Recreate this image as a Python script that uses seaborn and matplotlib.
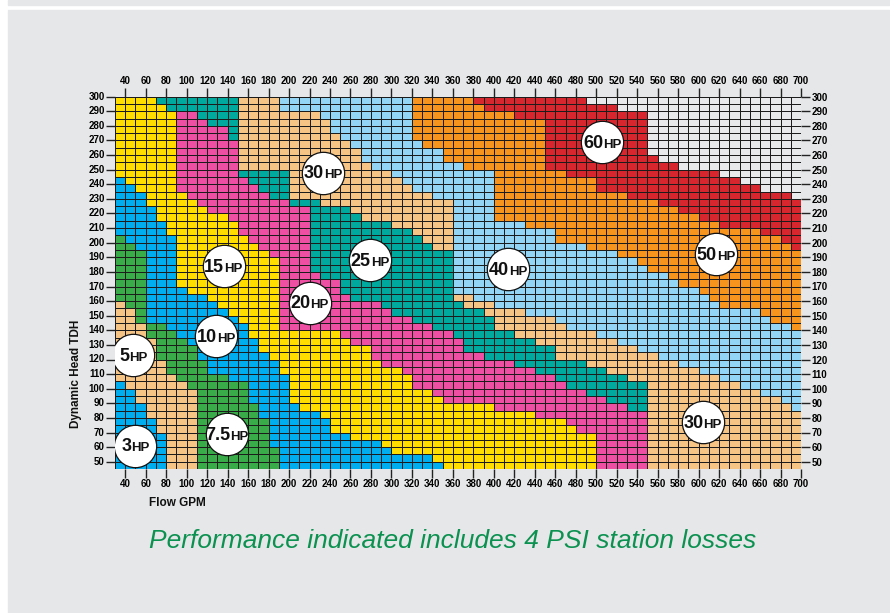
import numpy as np
import pandas as pd
import seaborn as sns
import matplotlib.pyplot as plt
from matplotlib.colors import ListedColormap
from matplotlib.offsetbox import TextArea, HPacker, AnnotationBbox
from matplotlib.patches import Rectangle

# Grid: columns are 10 GPM wide (left edge 30..690), rows are 5 ft tall (bottom edge 45..295)
gpm = list(range(30, 700, 10))
head = list(range(295, 40, -5))

# Top of each horsepower band (ft) for every 10 GPM column, bottom band first
hp3_top = [
    105, 100, 90, 80, 70, 45, 45, 45, 45, 45,
    45, 45, 45, 45, 45, 45, 45, 45, 45, 45,
    45, 45, 45, 45, 45, 45, 45, 45, 45, 45,
    45, 45, 45, 45, 45, 45, 45, 45, 45, 45,
    45, 45, 45, 45, 45, 45, 45, 45, 45, 45,
    45, 45, 45, 45, 45, 45, 45, 45, 45, 45,
    45, 45, 45, 45, 45, 45, 45,
]
hp5_top = [
    160, 155, 145, 135, 120, 110, 105, 100, 45, 45,
    45, 45, 45, 45, 45, 45, 45, 45, 45, 45,
    45, 45, 45, 45, 45, 45, 45, 45, 45, 45,
    45, 45, 45, 45, 45, 45, 45, 45, 45, 45,
    45, 45, 45, 45, 45, 45, 45, 45, 45, 45,
    45, 45, 45, 45, 45, 45, 45, 45, 45, 45,
    45, 45, 45, 45, 45, 45, 45,
]
hp7_5_top = [
    205, 200, 195, 145, 145, 140, 135, 130, 120, 110,
    110, 105, 105, 90, 80, 60, 45, 45, 45, 45,
    45, 45, 45, 45, 45, 45, 45, 45, 45, 45,
    45, 45, 45, 45, 45, 45, 45, 45, 45, 45,
    45, 45, 45, 45, 45, 45, 45, 45, 45, 45,
    45, 45, 45, 45, 45, 45, 45, 45, 45, 45,
    45, 45, 45, 45, 45, 45, 45,
]
hp10_top = [
    245, 240, 235, 225, 215, 205, 170, 165, 165, 160,
    155, 150, 145, 135, 125, 120, 110, 90, 85, 85,
    80, 70, 70, 65, 65, 65, 60, 55, 55, 55,
    55, 50, 45, 45, 45, 45, 45, 45, 45, 45,
    45, 45, 45, 45, 45, 45, 45, 45, 45, 45,
    45, 45, 45, 45, 45, 45, 45, 45, 45, 45,
    45, 45, 45, 45, 45, 45, 45,
]
hp15_top = [
    300, 300, 300, 300, 295, 290, 235, 230, 225, 220,
    220, 215, 205, 200, 195, 190, 140, 140, 140, 140,
    140, 140, 135, 130, 130, 120, 115, 115, 110, 100,
    100, 95, 90, 90, 90, 90, 90, 85, 85, 85,
    85, 80, 80, 80, 75, 70, 70, 45, 45, 45,
    45, 45, 45, 45, 45, 45, 45, 45, 45, 45,
    45, 45, 45, 45, 45, 45, 45,
]
hp20_top = [
    300, 300, 300, 300, 295, 290, 290, 290, 285, 280,
    280, 270, 245, 240, 235, 230, 230, 225, 225, 180,
    175, 175, 165, 160, 160, 160, 155, 150, 150, 145,
    145, 140, 140, 135, 125, 125, 120, 120, 120, 115,
    115, 110, 110, 105, 100, 100, 95, 95, 90, 90,
    85, 85, 45, 45, 45, 45, 45, 45, 45, 45,
    45, 45, 45, 45, 45, 45, 45,
]
hp25_top = [
    300, 300, 300, 300, 300, 300, 300, 300, 300, 300,
    300, 300, 250, 250, 250, 250, 250, 230, 230, 230,
    225, 225, 225, 220, 215, 215, 215, 210, 210, 205,
    200, 195, 195, 160, 155, 155, 150, 140, 140, 135,
    135, 130, 130, 120, 120, 120, 115, 115, 110, 110,
    105, 105, 45, 45, 45, 45, 45, 45, 45, 45,
    45, 45, 45, 45, 45, 45, 45,
]
hp30_top = [
    300, 300, 300, 300, 300, 300, 300, 300, 300, 300,
    300, 300, 300, 300, 300, 300, 290, 290, 290, 290,
    285, 275, 270, 265, 255, 250, 250, 245, 240, 235,
    235, 230, 230, 165, 165, 160, 160, 155, 155, 155,
    150, 150, 150, 145, 140, 140, 140, 135, 135, 130,
    130, 125, 125, 120, 120, 115, 115, 110, 110, 105,
    105, 100, 100, 95, 95, 90, 85,
]
hp40_top = [
    300, 300, 300, 300, 300, 300, 300, 300, 300, 300,
    300, 300, 300, 300, 300, 300, 300, 300, 300, 300,
    300, 300, 300, 300, 300, 300, 300, 300, 300, 270,
    265, 265, 255, 255, 250, 250, 250, 215, 215, 215,
    210, 210, 210, 200, 200, 200, 195, 195, 195, 190,
    190, 185, 180, 180, 175, 170, 170, 165, 160, 155,
    155, 155, 155, 150, 145, 145, 140,
]
hp50_top = [
    300, 300, 300, 300, 300, 300, 300, 300, 300, 300,
    300, 300, 300, 300, 300, 300, 300, 300, 300, 300,
    300, 300, 300, 300, 300, 300, 300, 300, 300, 300,
    300, 300, 300, 300, 300, 295, 290, 290, 290, 285,
    285, 285, 250, 250, 245, 245, 245, 235, 235, 235,
    230, 230, 230, 225, 225, 220, 220, 215, 215, 210,
    210, 210, 210, 205, 205, 200, 195,
]
hp60_top = [
    300, 300, 300, 300, 300, 300, 300, 300, 300, 300,
    300, 300, 300, 300, 300, 300, 300, 300, 300, 300,
    300, 300, 300, 300, 300, 300, 300, 300, 300, 300,
    300, 300, 300, 300, 300, 300, 300, 300, 300, 300,
    300, 300, 300, 300, 300, 300, 295, 295, 295, 290,
    290, 290, 260, 255, 255, 250, 250, 250, 250, 245,
    245, 240, 240, 235, 235, 235, 230,
]

band_tops = [hp3_top, hp5_top, hp7_5_top, hp10_top, hp15_top, hp20_top,
             hp25_top, hp30_top, hp40_top, hp50_top, hp60_top]
band_colors = ["#00aeef", "#f6c485", "#3aab49", "#00aeef", "#ffdd00", "#ee4fa2",
               "#00a99d", "#f6c485", "#93d5f4", "#f7941d", "#d8262e", "#e8e9ea"]

# Circle labels
hp_labels = ["3", "5", "7.5", "10", "15", "20", "25", "30", "40", "50", "60", "30"]
label_gpm = [50, 48, 139, 129, 136, 220, 279, 233, 414, 617, 506, 604]
label_head = [61, 123, 69, 136, 184, 159, 188, 248, 182, 192, 269, 77]

x_ticks = list(range(40, 701, 20))
y_ticks = list(range(50, 301, 10))

# category of every cell
grid = np.full((len(head), len(gpm)), len(band_tops))
for j in range(len(gpm)):
    for i, h in enumerate(head):
        for k, tops in enumerate(band_tops):
            if h < tops[j]:
                grid[i, j] = k
                break
df = pd.DataFrame(grid, index=head, columns=gpm)

plt.rcParams["font.family"] = ["Liberation Sans", "DejaVu Sans"]
plt.rcParams["font.weight"] = "bold"

bg = "#e6e7e8"
fig = plt.figure(figsize=(8.9, 6.13), dpi=100, facecolor="white")
fig.add_artist(Rectangle((8 / 890, 0), 882 / 890, 603 / 613, transform=fig.transFigure,
                         color=bg, zorder=-10))
fig.add_artist(Rectangle((8 / 890, 608 / 613), 882 / 890, 5 / 613, transform=fig.transFigure,
                         color=bg, zorder=-10))

ax = fig.add_axes([115 / 890, 1 - 469 / 613, 686 / 890, 372.3 / 613])
sns.heatmap(df, ax=ax, cmap=ListedColormap(band_colors), vmin=-0.5,
            vmax=len(band_colors) - 0.5, cbar=False, linewidths=0.7,
            linecolor="#1c1c1c")

sns.scatterplot(x=[(g - 30) / 10 for g in label_gpm],
                y=[(300 - h) / 5 for h in label_head],
                ax=ax, s=930, color="white", edgecolor="#111111",
                linewidth=0.9, zorder=3, legend=False)

for lab, g, h in zip(hp_labels, label_gpm, label_head):
    box = HPacker(children=[TextArea(lab, textprops=dict(size=13, weight="bold", color="#111111")),
                            TextArea("HP", textprops=dict(size=9.5, weight="bold", color="#111111"))],
                  align="baseline", pad=0, sep=0)
    ax.add_artist(AnnotationBbox(box, ((g - 30) / 10, (300 - h) / 5 + 0.15),
                                 frameon=False, zorder=4))

ax.set_xlim(0, len(gpm))
ax.set_ylim(len(head), 0)
ax.set_xticks([(g - 30) / 10 for g in x_ticks])
ax.set_xticklabels(x_ticks, rotation=0)
ax.set_yticks([(300 - h) / 5 for h in y_ticks])
ax.set_yticklabels(y_ticks, rotation=0)
ax.tick_params(axis="both", length=6.5, width=1, color="#222222", labelsize=7,
               pad=1, top=True, labeltop=True, right=True, labelright=True)
ax.set_xlabel("")
ax.set_ylabel("")

fig.text(76 / 890, 1 - 374 / 613, "Dynamic Head TDH", rotation=90, ha="center",
         va="center", fontsize=8.5, weight="bold", color="#111111")
fig.text(149 / 890, 1 - 503 / 613, "Flow GPM", ha="left", va="center",
         fontsize=8.5, weight="bold", color="#111111")
fig.text(149 / 890, 1 - 541 / 613, "Performance indicated includes 4 PSI station losses",
         ha="left", va="center", fontsize=19, style="italic", weight="normal",
         color="#0b9150")

fig.savefig("out.png", dpi=100, facecolor=fig.get_facecolor())
